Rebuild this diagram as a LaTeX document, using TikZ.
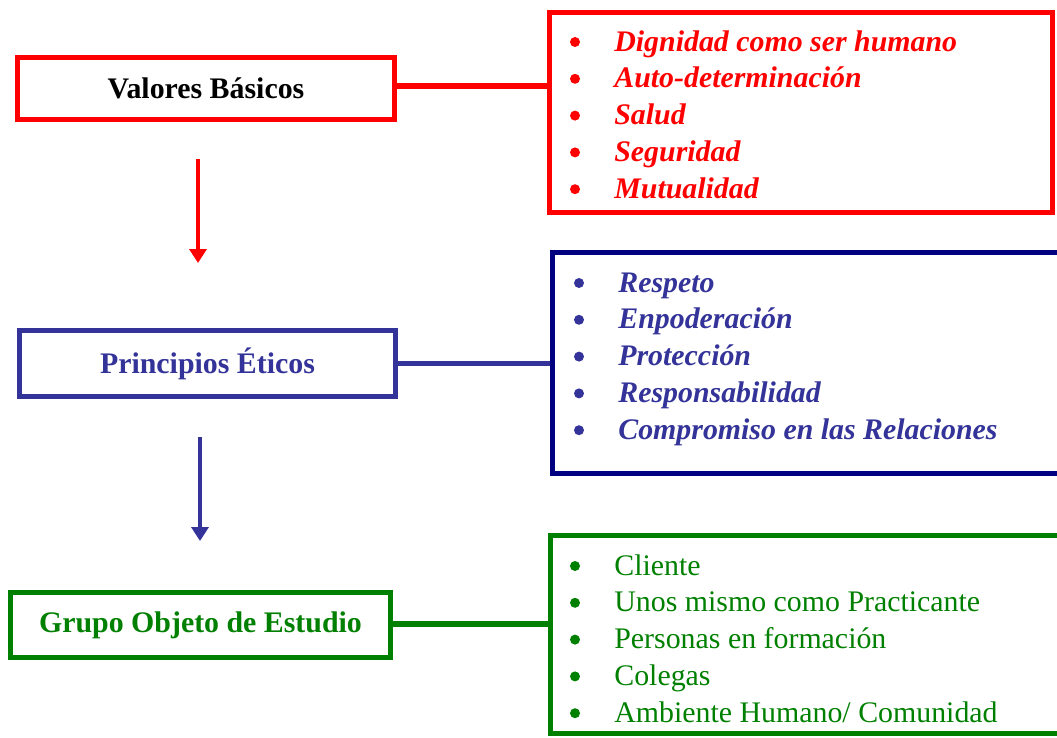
\documentclass[tikz,border=0pt]{standalone}
\usepackage{fontspec}
\setmainfont{Liberation Serif}
\usetikzlibrary{arrows.meta}
\definecolor{vred}{RGB}{255,0,0}
\definecolor{pblue}{RGB}{51,51,153}
\definecolor{pnavy}{RGB}{0,0,128}
\definecolor{ggreen}{RGB}{0,128,0}
\tikzset{titlebox/.style={draw,line width=3.2pt,inner sep=0pt,font=\bfseries\fontsize{17}{20}\selectfont},
         listbox/.style={draw,line width=3.2pt,inner sep=0pt},
         listitem/.style={anchor=west,inner sep=0pt,text height=12pt,text depth=4pt,font=\fontsize{17}{20}\selectfont},
         bulletdot/.style={circle,fill,inner sep=0pt,minimum size=0.2cm},
         joinline/.style={line width=3.2pt},
         downarrow/.style={line width=2.8pt,-{Triangle[width=0.34cm,length=0.28cm]}}}

\begin{document}
\begin{tikzpicture}[x=0.02cm,y=-0.02cm]
        \useasboundingbox (0,0) rectangle (1057,737);

        \node[titlebox,draw=vred,minimum width=7.54cm,minimum height=1.24cm](valores)at(206,88.5){Valores Básicos};
        \node[listbox,draw=vred,minimum width=10.06cm,minimum height=4cm](vallist)at(801,112.5){};
        \node[titlebox,draw=pblue,text=pblue,minimum width=7.52cm,minimum height=1.32cm](principios)at(207.5,363.5){Principios Éticos};
        \node[listbox,draw=pnavy,minimum width=10.3cm,minimum height=4.42cm](prinlist)at(810,363){};
        \node[titlebox,draw=ggreen,text=ggreen,minimum width=7.6cm,minimum height=1.3cm](grupo)at(200.5,625){Grupo Objeto de Estudio};
        \node[listbox,draw=ggreen,minimum width=10.34cm,minimum height=3.96cm](grupolist)at(809,634.5){};

        % lists
        \foreach \t [count=\i] in {Dignidad como ser humano,Auto-determinación,Salud,Seguridad,Mutualidad}{
            \node[bulletdot,fill=vred](valb\i)at(575,42+36.8*\i-36.8){};
            \node[listitem,text=vred,font=\bfseries\itshape\fontsize{17}{20}\selectfont](val\i)at(614,44+36.8*\i-36.8){\t};
        }
        \foreach \t [count=\i] in {Respeto,Enpoderación,Protección,Responsabilidad,Compromiso en las Relaciones}{
            \node[bulletdot,fill=pblue](prinb\i)at(579,283+36.8*\i-36.8){};
            \node[listitem,text=pblue,font=\bfseries\itshape\fontsize{17}{20}\selectfont](prin\i)at(618,285+36.8*\i-36.8){\t};
        }
        \foreach \t [count=\i] in {Cliente,Unos mismo como Practicante,Personas en formación,Colegas,Ambiente Humano/ Comunidad}{
            \node[bulletdot,fill=ggreen](grupob\i)at(575,566+36.8*\i-36.8){};
            \node[listitem,text=ggreen](grupo\i)at(614,568+36.8*\i-36.8){\t};
        }

        \coordinate(a1)at(198,159);
        \coordinate(a2)at(198,263);
        \coordinate(b1)at(200,437);
        \coordinate(b2)at(200,541);

        \draw[joinline,vred](valores.east|-0,86)--(vallist.west|-0,86);
        \draw[joinline,pblue](principios.east)--(prinlist.west|-principios.east);
        \draw[joinline,ggreen](grupo.east|-0,624)--(grupolist.west|-0,624);
        \draw[downarrow,vred](a1)--(a2);
        \draw[downarrow,pblue](b1)--(b2);
    \end{tikzpicture}
\end{document}
